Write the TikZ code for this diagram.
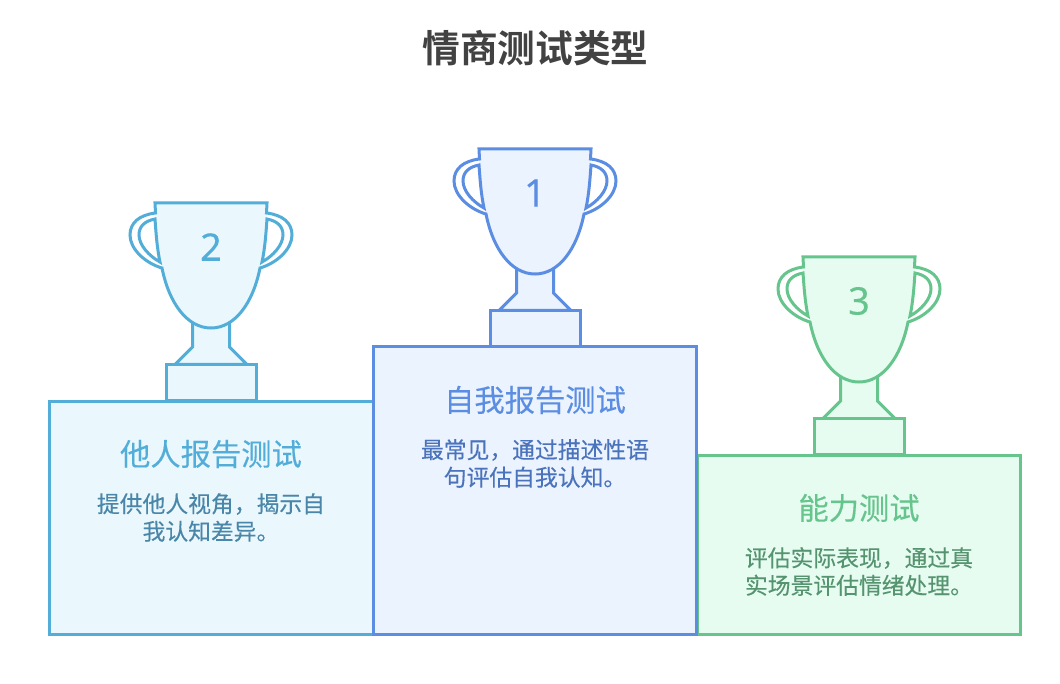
\documentclass[tikz,border=0pt]{standalone}
\usepackage{fontspec}
\setmainfont{Noto Sans}[FakeBold=0.25]
\newfontfamily\cjk{Noto Sans CJK SC}[FakeBold=0.25]
\newfontfamily\cjkbold{Noto Sans CJK SC Bold}
\definecolor{blueS}{HTML}{5B8DE3}\definecolor{blueF}{HTML}{EBF3FE}\definecolor{blueT}{HTML}{4A73BC}
\definecolor{cyanS}{HTML}{52ADD8}\definecolor{cyanF}{HTML}{EAF8FE}\definecolor{cyanT}{HTML}{4A86A8}
\definecolor{greenS}{HTML}{66C48D}\definecolor{greenF}{HTML}{E6FCF1}\definecolor{greenT}{HTML}{55946F}
\definecolor{titleC}{HTML}{424242}
\tikzset{
  outline/.style={draw=#1,line width=3pt,line join=miter},
  headtext/.style={font=\cjk\fontsize{30.3}{36}\selectfont,inner sep=0pt,anchor=center},
  desctext/.style={font=\cjk\fontsize{22.8}{27.5}\selectfont,inner sep=0pt,align=center,anchor=center},
  digittext/.style={font=\fontsize{38}{40}\selectfont,inner sep=0pt,anchor=center},
}
\newcommand{\trophy}[5]{%
\begin{scope}[shift={(#1,#2)}]
  \draw[outline=#3,fill=#4] (-18.5,118) -- (-18.5,144) -- (-36,161.5) -- (36,161.5) -- (18.5,144) -- (18.5,118) -- cycle;
  \draw[outline=#3,fill=#4] (-45,161.5) rectangle (45,197.5);
  \fill[white] (-56,0) -- (56,0) -- (55.5,10)
    .. controls (72,12) and (81,20) .. (81,32)
    .. controls (81,46) and (66,60) .. (49,65)
    .. controls (42,100) and (24,125) .. (0,125)
    .. controls (-24,125) and (-42,100) .. (-49,65)
    .. controls (-66,60) and (-81,46) .. (-81,32)
    .. controls (-81,20) and (-72,12) .. (-55.5,10) -- cycle;
  \fill[#4] (-56,0) -- (56,0) -- (55.5,10) -- (56,16)
    .. controls (55,30) and (54,45) .. (51,59) -- (49,65)
    .. controls (42,100) and (24,125) .. (0,125)
    .. controls (-24,125) and (-42,100) .. (-49,65) -- (-51,59)
    .. controls (-54,45) and (-55,30) .. (-56,16) -- (-55.5,10) -- cycle;
  \draw[outline=#3] (-56,0) -- (56,0) -- (55.5,10)
    .. controls (72,12) and (81,20) .. (81,32)
    .. controls (81,46) and (66,60) .. (49,65)
    .. controls (42,100) and (24,125) .. (0,125)
    .. controls (-24,125) and (-42,100) .. (-49,65)
    .. controls (-66,60) and (-81,46) .. (-81,32)
    .. controls (-81,20) and (-72,12) .. (-55.5,10) -- cycle;
  \draw[outline=#3] (-56,16) .. controls (-66,18) and (-72,23) .. (-72,32)
    .. controls (-72,42) and (-62,53) .. (-51,59)
    .. controls (-54,45) and (-55,30) .. (-56,16) -- cycle;
  \draw[outline=#3] (56,16) .. controls (66,18) and (72,23) .. (72,32)
    .. controls (72,42) and (62,53) .. (51,59)
    .. controls (54,45) and (55,30) .. (56,16) -- cycle;
  \node[digittext,text=#3] (digit#5) at (0,44) {#5};
\end{scope}}
\begin{document}
\begin{tikzpicture}[x=1pt,y=-1pt]
\useasboundingbox[fill=white] (0,0) rectangle (1060,684);
\node[font=\cjkbold\fontsize{37.7}{40}\selectfont,text=titleC,inner sep=0pt] (title) at (535.5,48) {情商测试类型};
\draw[outline=cyanS,fill=cyanF] (49,401) rectangle (373,634.6);
\draw[outline=greenS,fill=greenF] (697,455) rectangle (1020.6,634.6);
\draw[outline=blueS,fill=blueF] (373,347) rectangle (696.6,634.6);
\trophy{211}{203}{cyanS}{cyanF}{2}
\trophy{535}{149}{blueS}{blueF}{1}
\trophy{859}{257}{greenS}{greenF}{3}
\node[headtext,text=cyanS] (h2) at (211,454) {他人报告测试};
\node[desctext,text=cyanT] (d2) at (211,517.5) {提供他人视角，揭示自\\我认知差异。};
\node[headtext,text=blueS] (h1) at (535,400) {自我报告测试};
\node[desctext,text=blueT] (d1) at (535,463.5) {最常见，通过描述性语\\句评估自我认知。};
\node[headtext,text=greenS] (h3) at (859,508) {能力测试};
\node[desctext,text=greenT] (d3) at (859,571.5) {评估实际表现，通过真\\实场景评估情绪处理。};
\end{tikzpicture}
\end{document}
